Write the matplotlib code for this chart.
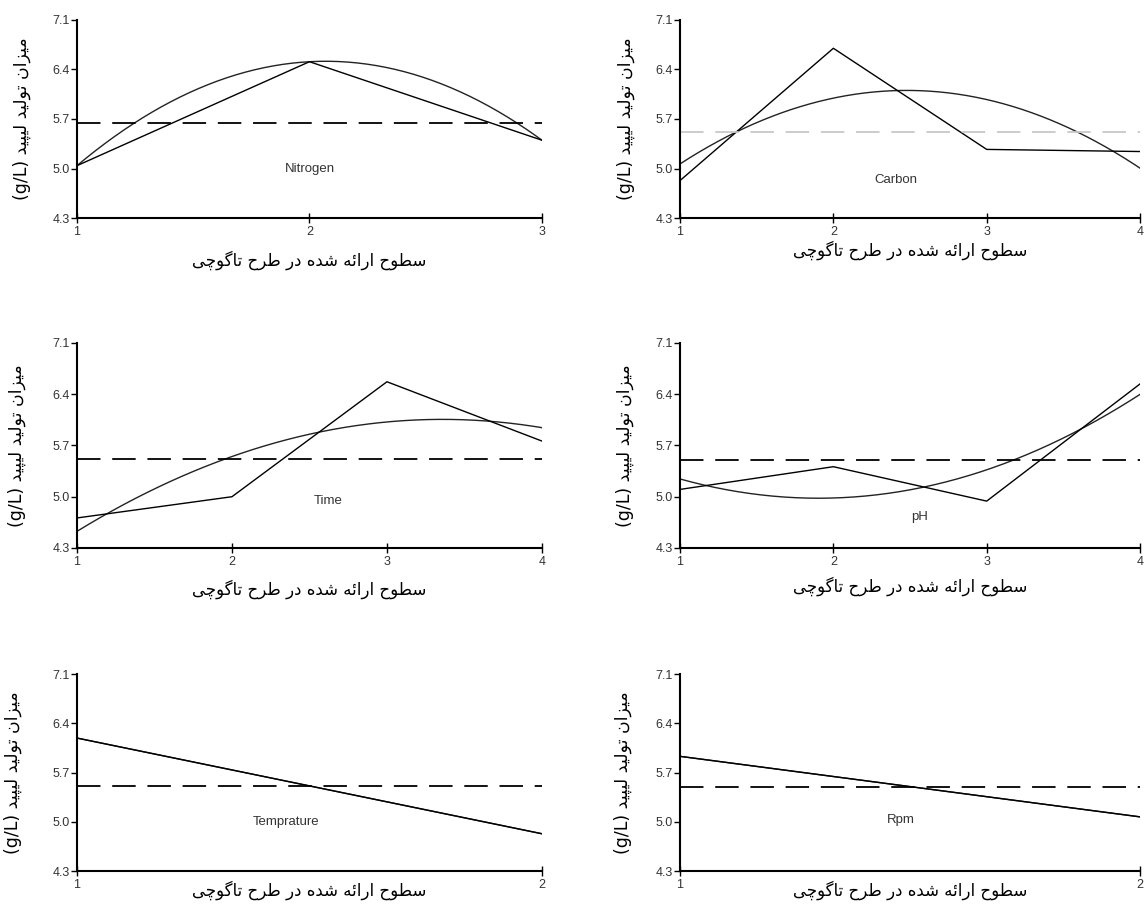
"""Taguchi main-effect plots: lipid production vs. factor level, six factors."""

import matplotlib

matplotlib.use("Agg")
import matplotlib.pyplot as plt
import numpy as np

# mean lipid production (g/L) at each level of each factor
NITROGEN = [5.04, 6.51, 5.40]
CARBON = [4.83, 6.70, 5.27, 5.24]
TIME = [4.71, 5.00, 6.57, 5.76]
PH = [5.10, 5.41, 4.94, 6.54]
TEMPRATURE = [6.19, 4.83]
RPM = [5.93, 5.07]

PANEL_NAMES = ["Nitrogen", "Carbon", "Time", "pH", "Temprature", "Rpm"]
PANEL_VALUES = [NITROGEN, CARBON, TIME, PH, TEMPRATURE, RPM]

Y_TICKS = [4.3, 5.0, 5.7, 6.4, 7.1]
Y_LABEL_FA = "میزان تولید لیپید"
Y_UNIT = "(g/L)"
X_LABEL_FA = "سطوح ارائه شده در طرح تاگوچی"

# (left, bottom, width, height) in figure fractions, plus label placement
LAYOUT = {
    "Nitrogen":   dict(rect=(0.0671, 0.7599, 0.4054, 0.2181), name_xy=(0.50, 0.25), xlab=-0.165, ylab=-0.098),
    "Carbon":     dict(rect=(0.5929, 0.7599, 0.4010, 0.2181), name_xy=(0.47, 0.19), xlab=-0.115, ylab=-0.098),
    "Time":       dict(rect=(0.0671, 0.3965, 0.4054, 0.2258), name_xy=(0.54, 0.23), xlab=-0.155, ylab=-0.110),
    "pH":         dict(rect=(0.5929, 0.3965, 0.4010, 0.2258), name_xy=(0.52, 0.15), xlab=-0.140, ylab=-0.100),
    "Temprature": dict(rect=(0.0671, 0.0407, 0.4054, 0.2170), name_xy=(0.45, 0.25), xlab=-0.050, ylab=-0.118),
    "Rpm":        dict(rect=(0.5929, 0.0407, 0.4010, 0.2170), name_xy=(0.48, 0.26), xlab=-0.050, ylab=-0.105),
}

# contextual presentation forms: isolated, final[, initial, medial]
# two-form letters never connect to the following letter
ARABIC_FORMS = {
    "\u0627": ("\uFE8D", "\uFE8E"),
    "\u062F": ("\uFEA9", "\uFEAA"),
    "\u0631": ("\uFEAD", "\uFEAE"),
    "\u0632": ("\uFEAF", "\uFEB0"),
    "\u0648": ("\uFEED", "\uFEEE"),
    "\u0626": ("\uFE89", "\uFE8A", "\uFE8B", "\uFE8C"),
    "\u062A": ("\uFE95", "\uFE96", "\uFE97", "\uFE98"),
    "\u062D": ("\uFEA1", "\uFEA2", "\uFEA3", "\uFEA4"),
    "\u0633": ("\uFEB1", "\uFEB2", "\uFEB3", "\uFEB4"),
    "\u0634": ("\uFEB5", "\uFEB6", "\uFEB7", "\uFEB8"),
    "\u0637": ("\uFEC1", "\uFEC2", "\uFEC3", "\uFEC4"),
    "\u0644": ("\uFEDD", "\uFEDE", "\uFEDF", "\uFEE0"),
    "\u0645": ("\uFEE1", "\uFEE2", "\uFEE3", "\uFEE4"),
    "\u0646": ("\uFEE5", "\uFEE6", "\uFEE7", "\uFEE8"),
    "\u0647": ("\uFEE9", "\uFEEA", "\uFEEB", "\uFEEC"),
    "\u067E": ("\uFB56", "\uFB57", "\uFB58", "\uFB59"),
    "\u0686": ("\uFB7A", "\uFB7B", "\uFB7C", "\uFB7D"),
    "\u06AF": ("\uFB92", "\uFB93", "\uFB94", "\uFB95"),
    "\u06CC": ("\uFBFC", "\uFBFD", "\uFBFE", "\uFBFF"),
}


def shape_rtl(text: str) -> str:
    """matplotlib 3.10 has no Arabic shaping/bidi, so do it by hand:
    pick joined glyph forms, then reverse into visual order."""
    out = []
    for i, ch in enumerate(text):
        forms = ARABIC_FORMS.get(ch)
        if forms is None:
            out.append(ch)
            continue
        prev = ARABIC_FORMS.get(text[i - 1]) if i > 0 else None
        nxt = text[i + 1] if i + 1 < len(text) else ""
        joins_prev = prev is not None and len(prev) == 4
        joins_next = len(forms) == 4 and nxt in ARABIC_FORMS
        if joins_prev and joins_next:
            out.append(forms[3])
        elif joins_prev:
            out.append(forms[1])
        elif joins_next:
            out.append(forms[2])
        else:
            out.append(forms[0])
    return "".join(reversed(out))


plt.rcParams["font.family"] = ["Liberation Sans", "DejaVu Sans"]

fig = plt.figure(figsize=(11.47, 9.08), dpi=100)

for name, values in zip(PANEL_NAMES, PANEL_VALUES):
    cfg = LAYOUT[name]
    ax = fig.add_axes(cfg["rect"])
    levels = np.arange(1, len(values) + 1)

    # quadratic trend of the level means (linear for two levels)
    deg = min(2, len(values) - 1)
    coef = np.polyfit(levels, values, deg)
    xs = np.linspace(1, len(values), 200)
    ax.plot(xs, np.polyval(coef, xs), color="#222222", lw=1.0)
    ax.plot(levels, values, color="black", lw=1.0)

    mean_color = "#c8c8c8" if name == "Carbon" else "black"
    ax.axhline(np.mean(values), color=mean_color, lw=1.3, dashes=(13, 6.5))

    ax.set_xlim(1, len(values))
    ax.set_ylim(Y_TICKS[0], Y_TICKS[-1])
    ax.set_xticks(levels)
    ax.set_yticks(Y_TICKS)
    ax.set_yticklabels([f"{t:.1f}" for t in Y_TICKS])
    ax.tick_params(axis="y", direction="out", length=4, width=1.0,
                   labelsize=9, labelcolor="#333333", pad=1)
    ax.tick_params(axis="x", direction="inout", length=7, width=1.0,
                   labelsize=9, labelcolor="#333333", pad=2)

    for side in ("top", "right"):
        ax.spines[side].set_visible(False)
    for side in ("left", "bottom"):
        ax.spines[side].set_linewidth(1.5)

    ax.text(*cfg["name_xy"], name, transform=ax.transAxes, ha="center",
            va="center", fontsize=9.5, color="#333333")

    ax.set_ylabel(Y_UNIT + " " + shape_rtl(Y_LABEL_FA), fontsize=12.5,
                  family=["DejaVu Sans"])
    ax.yaxis.set_label_coords(cfg["ylab"], 0.5)
    ax.set_xlabel(shape_rtl(X_LABEL_FA), fontsize=12, family=["DejaVu Sans"])
    ax.xaxis.set_label_coords(0.5, cfg["xlab"])

fig.savefig("out.png", dpi=100)
